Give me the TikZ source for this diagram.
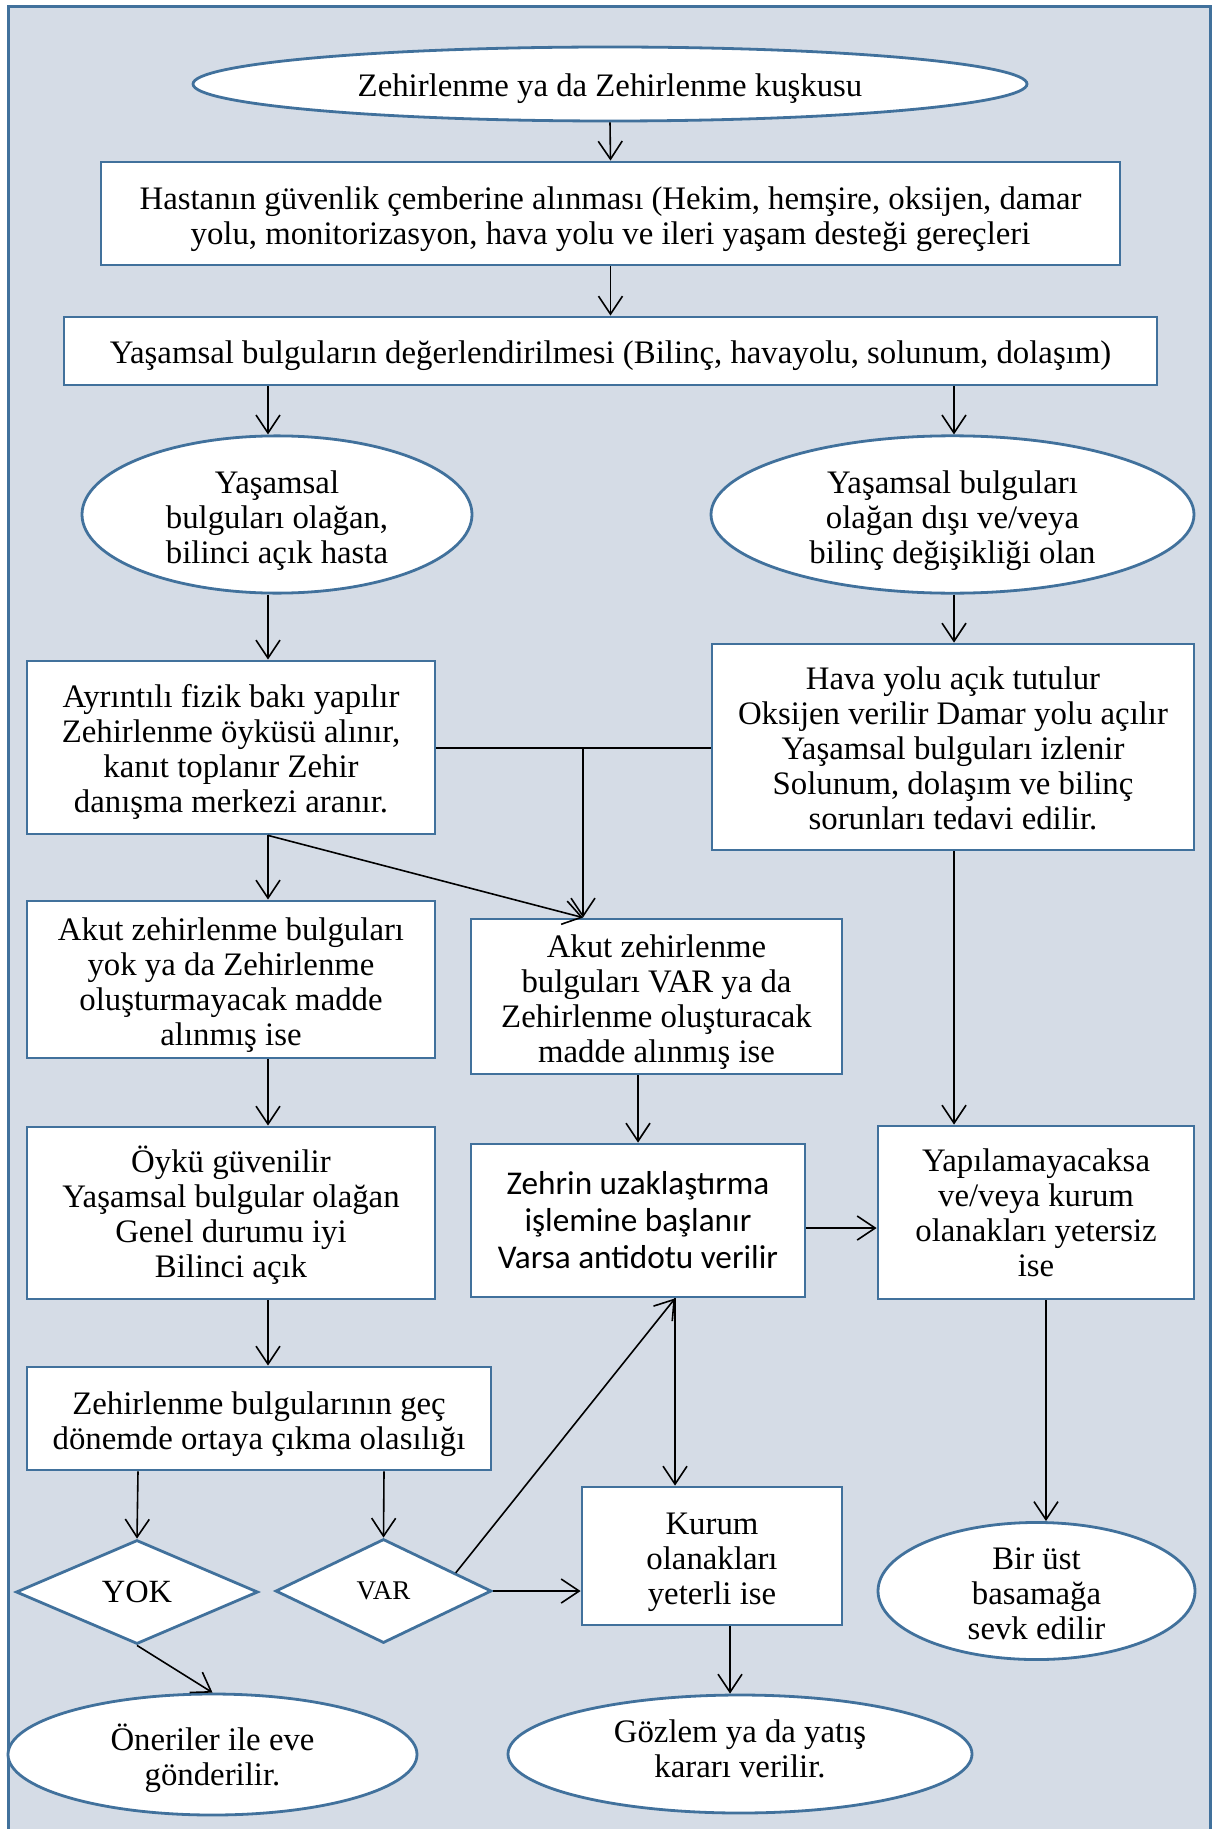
\documentclass[tikz,border=0pt]{standalone}
\usepackage{fontspec}
\setmainfont{Liberation Serif}
\newfontfamily\calibrifont{Carlito}
\usetikzlibrary{shapes.geometric,arrows.meta,calc}
\definecolor{bgc}{HTML}{D5DCE6}
\definecolor{bdc}{HTML}{41719C}
\newcommand\tstrut[1]{\rule{0pt}{#1}}
\begin{document}
\begin{tikzpicture}[x=0.5pt,y=-0.5pt,
  base/.style={draw=bdc,line width=1.4pt,fill=white,inner sep=0pt,align=center,
    font=\fontsize{16.4}{17.5}\selectfont},
  box/.style={base,rectangle},
  ell/.style={base,ellipse},
  dia/.style={base,diamond},
  upby/.style={execute at end node={\rule[-#1]{0pt}{0pt}}},
  ln/.style={draw=black,line width=0.8pt},
  arr/.style={ln,-{Straight Barb[length=9pt,width=12pt,line width=0.8pt]}}]
\useasboundingbox (0,0) rectangle (1214,1829);
\begin{scope}
  \clip (0,0) rectangle (1214,1829);
  \fill[white] (0,0) rectangle (1214,1829);
  \draw[draw=bdc,line width=1.5pt,fill=bgc] (8,7) rectangle (1210,1870);
\end{scope}

% nodes
\node[ell,minimum width=417pt,minimum height=37pt] (n1) at (610,84) {\tstrut{15.9pt}Zehirlenme ya da Zehirlenme kuşkusu};
\node[box,minimum width=509.5pt,minimum height=51.5pt] (n2) at (610.5,213.5)
  {\tstrut{17.1pt}Hastanın güvenlik çemberine alınması (Hekim, hemşire, oksijen, damar\\ yolu, monitorizasyon, hava yolu ve ileri yaşam desteği gereçleri};
\node[box,minimum width=546.5pt,minimum height=34pt] (n3) at (610.5,351)
  {\tstrut{15.9pt}Yaşamsal bulguların değerlendirilmesi (Bilinç, havayolu, solunum, dolaşım)};
\node[ell,minimum width=195pt,minimum height=77.5pt] (n4) at (277,514.5)
  {\tstrut{17.1pt}Yaşamsal\\ bulguları olağan,\\ bilinci açık hasta};
\node[ell,minimum width=241.5pt,minimum height=77.5pt] (n5) at (952.5,514.5)
  {\tstrut{17.1pt}Yaşamsal bulguları\\ olağan dışı ve/veya\\ bilinç değişikliği olan};
\node[box,minimum width=204pt,minimum height=86.5pt] (n6) at (231,747.5)
  {\tstrut{15.9pt}Ayrıntılı fizik bakı yapılır\\ Zehirlenme öyküsü alınır,\\ kanıt toplanır Zehir\\ danışma merkezi aranır.};
\node[box,minimum width=241pt,minimum height=103pt] (n7) at (953,747)
  {\tstrut{12.4pt}Hava yolu açık tutulur\\ Oksijen verilir Damar yolu açılır\\ Yaşamsal bulguları izlenir\\ Solunum, dolaşım ve bilinç\\ sorunları tedavi edilir.};
\node[box,minimum width=204pt,minimum height=78.5pt] (n8) at (231,979.5)
  {\tstrut{17.1pt}Akut zehirlenme bulguları\\ yok ya da Zehirlenme\\ oluşturmayacak madde\\ alınmış ise};
\node[box,minimum width=185.5pt,minimum height=77.5pt] (n9) at (656.5,996.5)
  {\tstrut{17.1pt}Akut zehirlenme\\ bulguları VAR ya da\\ Zehirlenme oluşturacak\\ madde alınmış ise};
\node[box,minimum width=204pt,minimum height=86pt] (n10) at (231,1213)
  {\tstrut{15.8pt}Öykü güvenilir\\ Yaşamsal bulgular olağan\\ Genel durumu iyi\\ Bilinci açık};
\node[box,minimum width=167pt,minimum height=76.5pt,font=\calibrifont\fontsize{16.6}{18.5}\selectfont] (n11) at (638,1220.5)
  {Zehrin uzaklaştırma\\ işlemine başlanır\\ Varsa antidotu verilir};
\node[box,minimum width=158pt,minimum height=86.5pt] (n12) at (1036,1212.5)
  {Yapılamayacaksa\\ ve/veya kurum\\ olanakları yetersiz\\ ise};
\node[box,minimum width=232pt,minimum height=51.5pt] (n13) at (259,1418.5)
  {\tstrut{17.1pt}Zehirlenme bulgularının geç\\ dönemde ortaya çıkma olasılığı};
\node[dia,minimum width=121pt,minimum height=52pt,font=\fontsize{16.2}{18}\selectfont] (n14) at (137,1592) {YOK};
\node[dia,minimum width=108pt,minimum height=52pt,font=\fontsize{13.5}{15}\selectfont] (n15) at (383.5,1591) {VAR};
\node[box,minimum width=130pt,minimum height=69pt] (n16) at (712,1556)
  {\tstrut{16.7pt}Kurum\\ olanakları\\ yeterli ise};
\node[ell,minimum width=158.5pt,minimum height=68pt] (n17) at (1036.5,1591)
  {\tstrut{13.3pt}Bir üst\\ basamağa\\ sevk edilir};
\node[ell,minimum width=204.5pt,minimum height=60.5pt] (n18) at (212.5,1754.5)
  {\tstrut{16.8pt}Öneriler ile eve\\ gönderilir.};
\node[ell,upby=5.8pt,minimum width=232pt,minimum height=59pt] (n19) at (740,1754)
  {Gözlem ya da yatış\\ kararı verilir.};

% column helpers
\coordinate (cA) at (268,0);
\coordinate (cB) at (954,0);
\coordinate (cD) at (138,0);
\coordinate (cE) at (384,0);
\coordinate (cF) at (675,0);
\coordinate (cG) at (730,0);
\coordinate (cH) at (1046,0);
\coordinate (j) at (583,748);
\coordinate (rY) at (0,1228);

% connectors
\draw[arr] (n1.south) -- (n2.north);
\draw[arr] (n2.south) -- (n3.north);
\draw[arr] (n3.south -| cA) -- (n4.north -| cA);
\draw[arr] (n3.south -| cB) -- (n5.north -| cB);
\draw[arr] (n4.south -| cA) -- (n6.north -| cA);
\draw[arr] (n5.south -| cB) -- (n7.north -| cB);
\draw[arr] (n6.south -| cA) -- (n8.north -| cA);
\draw[arr] (n6.south -| cA) -- (n9.north -| j);
\draw[ln] (n6.east |- j) -- (n7.west |- j);
\draw[arr] (j) -- (n9.north -| j);
\draw[arr] (n7.south -| cB) -- (n12.north -| cB);
\draw[arr] (n8.south -| cA) -- (n10.north -| cA);
\draw[arr] (n9.south -| n11.north) -- (n11.north);
\draw[arr] (n11.east |- rY) -- (n12.west |- rY);
\draw[arr] (n10.south -| cA) -- (n13.north -| cA);
\draw[arr] (n13.south -| cD) -- (n14.north);
\draw[arr] (n13.south -| cE) -- (n15.north);
\draw[arr] (n14.south) -- (n18.north);
\draw[arr] ($(n15.north)!0.66!(n15.east)$) -- (n11.south -| cF);
\draw[arr] (n11.south -| cF) -- (n16.north -| cF);
\draw[arr] (n15.east) -- (n16.west |- n15.east);
\draw[arr] (n16.south -| cG) -- (n19.north -| cG);
\draw[arr] (n12.south -| cH) -- (n17.north -| cH);
\end{tikzpicture}
\end{document}
